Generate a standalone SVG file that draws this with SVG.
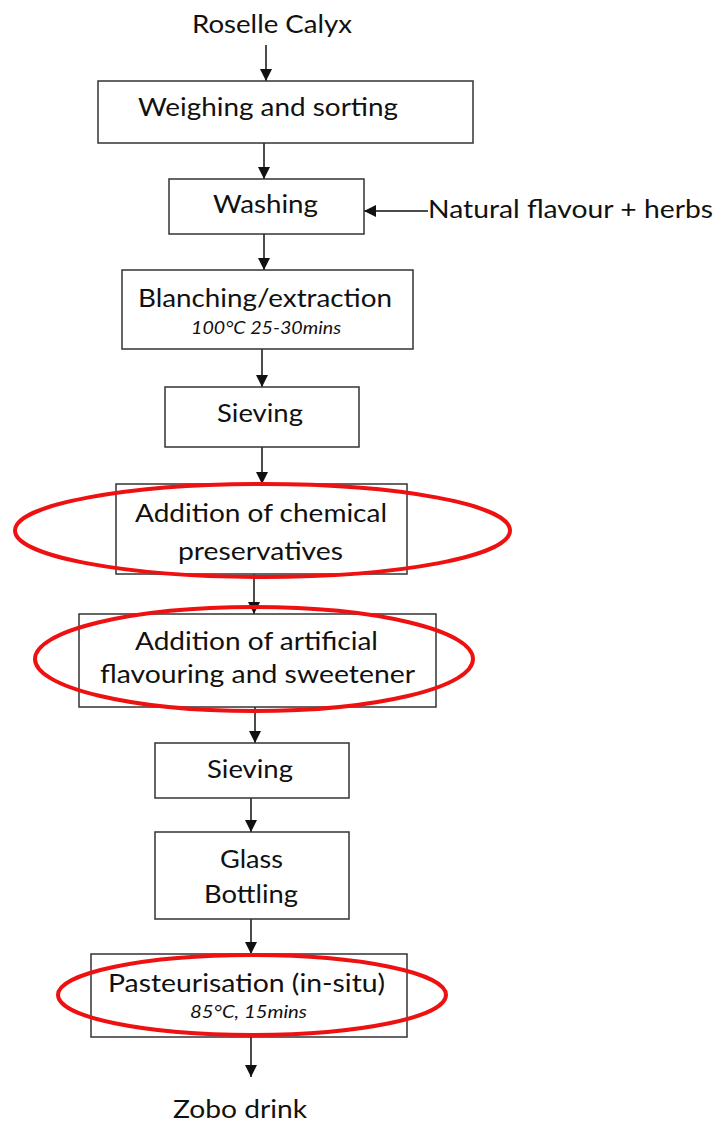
<svg xmlns="http://www.w3.org/2000/svg" width="722" height="1126" viewBox="0 0 722 1126">
  <style>
    .box { fill: #ffffff; stroke: #333333; stroke-width: 1.5; }
    .lbl { font-family: Lato, "Liberation Sans", sans-serif; font-size: 25px; fill: #111111; }
    .sub { font-family: Lato, "Liberation Sans", sans-serif; font-size: 18px; font-style: italic; fill: #111111; }
    .conn { stroke: #111111; stroke-width: 1.5; fill: none; marker-end: url(#arrow); }
    .ring { fill: none; stroke: #ee1111; stroke-width: 4; }
  </style>
  <defs>
    <marker id="arrow" markerUnits="userSpaceOnUse" markerWidth="14" markerHeight="14" viewBox="0 0 14 14" refX="12" refY="7" orient="auto">
      <path d="M0,1 L12,7 L0,13 Z" fill="#111111"/>
    </marker>
  </defs>
  <rect width="722" height="1126" fill="#ffffff"/>

  <g id="connectors">
    <line class="conn" x1="266" y1="45" x2="266" y2="81"/>
    <line class="conn" x1="264" y1="143" x2="264" y2="179"/>
    <line class="conn" x1="428" y1="211" x2="364" y2="211"/>
    <line class="conn" x1="264" y1="234" x2="264" y2="270"/>
    <line class="conn" x1="262" y1="349" x2="262" y2="387"/>
    <line class="conn" x1="262" y1="447" x2="262" y2="484"/>
    <line class="conn" x1="254" y1="574" x2="254" y2="614"/>
    <line class="conn" x1="255" y1="707" x2="255" y2="743"/>
    <line class="conn" x1="251" y1="798" x2="251" y2="832"/>
    <line class="conn" x1="251" y1="919" x2="251" y2="954"/>
    <line class="conn" x1="251" y1="1037" x2="251" y2="1077"/>
  </g>

  <g id="roselle">
    <text class="lbl" x="192" y="33" textLength="160" lengthAdjust="spacingAndGlyphs">Roselle Calyx</text>
  </g>

  <g id="weighing">
    <rect class="box" x="98" y="81" width="375" height="62"/>
    <text class="lbl" x="138" y="116" textLength="260" lengthAdjust="spacingAndGlyphs">Weighing and sorting</text>
  </g>

  <g id="washing">
    <rect class="box" x="169" y="179" width="195" height="55"/>
    <text class="lbl" x="213" y="213" textLength="105" lengthAdjust="spacingAndGlyphs">Washing</text>
  </g>

  <g id="natural">
    <text class="lbl" x="428" y="218" textLength="285" lengthAdjust="spacingAndGlyphs">Natural flavour + herbs</text>
  </g>

  <g id="blanching">
    <rect class="box" x="122" y="270" width="291" height="79"/>
    <text class="lbl" x="138" y="307" textLength="254" lengthAdjust="spacingAndGlyphs">Blanching/extraction</text>
    <text class="sub" x="191" y="334" textLength="150" lengthAdjust="spacingAndGlyphs">100°C 25-30mins</text>
  </g>

  <g id="sieving1">
    <rect class="box" x="165" y="387" width="194" height="60"/>
    <text class="lbl" x="217" y="422" textLength="86" lengthAdjust="spacingAndGlyphs">Sieving</text>
  </g>

  <g id="chemical">
    <rect class="box" x="116" y="484" width="291" height="90"/>
    <text class="lbl" x="135" y="522" textLength="252" lengthAdjust="spacingAndGlyphs">Addition of chemical</text>
    <text class="lbl" x="178" y="560" textLength="165" lengthAdjust="spacingAndGlyphs">preservatives</text>
  </g>

  <g id="artificial">
    <rect class="box" x="79" y="614" width="357" height="93"/>
    <text class="lbl" x="135" y="650" textLength="243" lengthAdjust="spacingAndGlyphs">Addition of artificial</text>
    <text class="lbl" x="100" y="683" textLength="315" lengthAdjust="spacingAndGlyphs">flavouring and sweetener</text>
  </g>

  <g id="sieving2">
    <rect class="box" x="155" y="743" width="194" height="55"/>
    <text class="lbl" x="207" y="778" textLength="86" lengthAdjust="spacingAndGlyphs">Sieving</text>
  </g>

  <g id="bottling">
    <rect class="box" x="155" y="832" width="194" height="87"/>
    <text class="lbl" x="220" y="868" textLength="63" lengthAdjust="spacingAndGlyphs">Glass</text>
    <text class="lbl" x="204" y="903" textLength="94" lengthAdjust="spacingAndGlyphs">Bottling</text>
  </g>

  <g id="pasteurisation">
    <rect class="box" x="91" y="954" width="316" height="83"/>
    <text class="lbl" x="108" y="992" textLength="277" lengthAdjust="spacingAndGlyphs">Pasteurisation (in-situ)</text>
    <text class="sub" x="190" y="1018" textLength="117" lengthAdjust="spacingAndGlyphs">85°C, 15mins</text>
  </g>

  <g id="zobo">
    <text class="lbl" x="173" y="1118" textLength="134" lengthAdjust="spacingAndGlyphs">Zobo drink</text>
  </g>

  <g id="highlights">
    <ellipse class="ring" cx="262.5" cy="530.5" rx="247.5" ry="46.5"/>
    <ellipse class="ring" cx="254" cy="659" rx="219" ry="52"/>
    <ellipse class="ring" cx="252" cy="995" rx="194" ry="40"/>
  </g>
</svg>
